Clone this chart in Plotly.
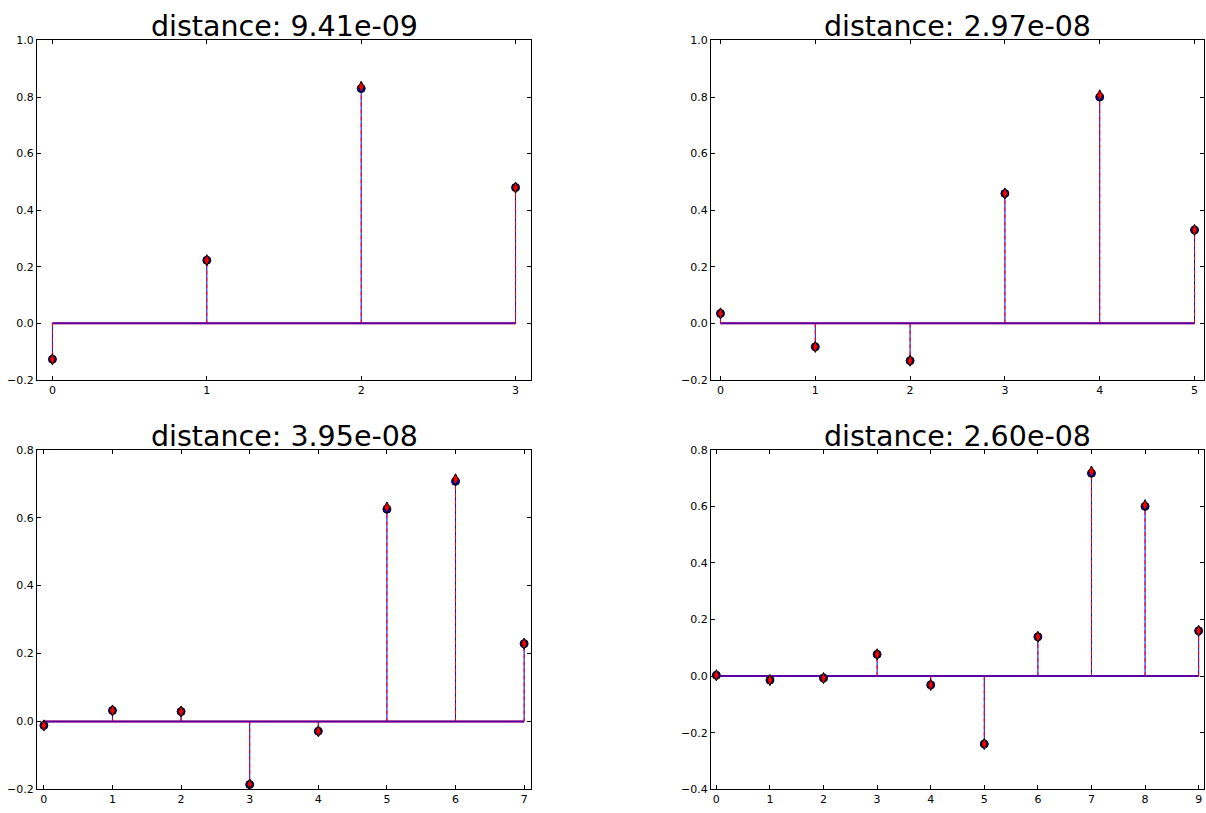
import plotly.graph_objects as go

W, H = 1206, 813

titles = ["distance: 9.41e-09", "distance: 2.97e-08", "distance: 3.95e-08", "distance: 2.60e-08"]

vals_a1 = [-0.127, 0.223, 0.830, 0.480]
vals_b1 = [-0.127, 0.223, 0.836, 0.480]

vals_a2 = [0.035, -0.083, -0.132, 0.459, 0.800, 0.330]
vals_b2 = [0.035, -0.083, -0.132, 0.459, 0.806, 0.330]

vals_a3 = [-0.012, 0.032, 0.029, -0.186, -0.029, 0.625, 0.707, 0.229]
vals_b3 = [-0.012, 0.032, 0.029, -0.186, -0.029, 0.630, 0.713, 0.229]

vals_a4 = [0.003, -0.014, -0.007, 0.077, -0.031, -0.240, 0.139, 0.717, 0.600, 0.160]
vals_b4 = [0.003, -0.014, -0.007, 0.077, -0.031, -0.240, 0.139, 0.723, 0.604, 0.160]

y_ranges = [(-0.2, 1.0), (-0.2, 1.0), (-0.2, 0.8), (-0.4, 0.8)]

series = [(vals_a1, vals_b1), (vals_a2, vals_b2), (vals_a3, vals_b3), (vals_a4, vals_b4)]

# pixel boxes of plot areas: (left, right, top, bottom)
boxes = [(37, 531, 35, 380), (711, 1204, 35, 380), (37, 531, 451, 796), (711, 1204, 451, 796)]

fig = go.Figure()

def stem_xy(vals):
    xs, ys = [], []
    for i, v in enumerate(vals):
        xs += [i, i, None]
        ys += [0, v, None]
    return xs, ys

for k, ((a, b), (ylo, yhi), (l, r, t, btm)) in enumerate(zip(series, y_ranges, boxes)):
    n = k + 1
    xa = "x" if n == 1 else f"x{n}"
    ya = "y" if n == 1 else f"y{n}"
    idx = list(range(len(a)))
    # blue solid stems
    sx, sy = stem_xy(a)
    fig.add_trace(go.Scatter(x=sx, y=sy, mode="lines", line=dict(color="blue", width=1),
                             xaxis=xa, yaxis=ya, showlegend=False, hoverinfo="skip"))
    # red dashed stems
    sx, sy = stem_xy(b)
    fig.add_trace(go.Scatter(x=sx, y=sy, mode="lines", line=dict(color="red", width=1, dash="4px,3px"),
                             xaxis=xa, yaxis=ya, showlegend=False, hoverinfo="skip"))
    # baselines (red, then blue blended on top)
    fig.add_trace(go.Scatter(x=[0, len(a) - 1], y=[0, 0], mode="lines", line=dict(color="red", width=2),
                             xaxis=xa, yaxis=ya, showlegend=False, hoverinfo="skip"))
    fig.add_trace(go.Scatter(x=[0, len(a) - 1], y=[0, 0], mode="lines", line=dict(color="blue", width=2),
                             opacity=0.65, xaxis=xa, yaxis=ya, showlegend=False, hoverinfo="skip"))
    # blue circles
    fig.add_trace(go.Scatter(x=idx, y=a, mode="markers",
                             marker=dict(symbol="circle", size=8, color="blue", line=dict(color="black", width=1)),
                             xaxis=xa, yaxis=ya, showlegend=False))
    # red diamonds
    fig.add_trace(go.Scatter(x=idx, y=b, mode="markers",
                             marker=dict(symbol="diamond-tall", size=8, color="red", line=dict(color="black", width=1)),
                             xaxis=xa, yaxis=ya, showlegend=False))

    axcommon = dict(showline=True, linecolor="black", linewidth=1, mirror="ticks", ticks="inside",
                    ticklen=4, tickwidth=1, tickcolor="black", showgrid=False, zeroline=False,
                    tickfont=dict(family="DejaVu Sans", size=11, color="black"))
    xkey = "xaxis" if n == 1 else f"xaxis{n}"
    ykey = "yaxis" if n == 1 else f"yaxis{n}"
    fig.update_layout(**{
        xkey: dict(domain=[l / W, r / W], range=[-0.1, len(a) - 1 + 0.1], anchor=ya,
                   tickmode="array", tickvals=idx, ticktext=[str(i) for i in idx], **axcommon),
        ykey: dict(domain=[1 - btm / H, 1 - t / H], range=[ylo, yhi], anchor=xa,
                   dtick=0.2, tick0=0, tickformat=".1f", **axcommon),
    })
    fig.add_annotation(text=titles[k], x=(l + r) / 2 / W, y=1 - (t - 14) / H, xref="paper", yref="paper",
                       xanchor="center", yanchor="middle", showarrow=False,
                       font=dict(family="DejaVu Sans", size=28.5, color="black"))

fig.update_layout(width=W, height=H, margin=dict(l=0, r=0, t=0, b=0),
                  plot_bgcolor="white", paper_bgcolor="white")

fig.write_html("out.html")
